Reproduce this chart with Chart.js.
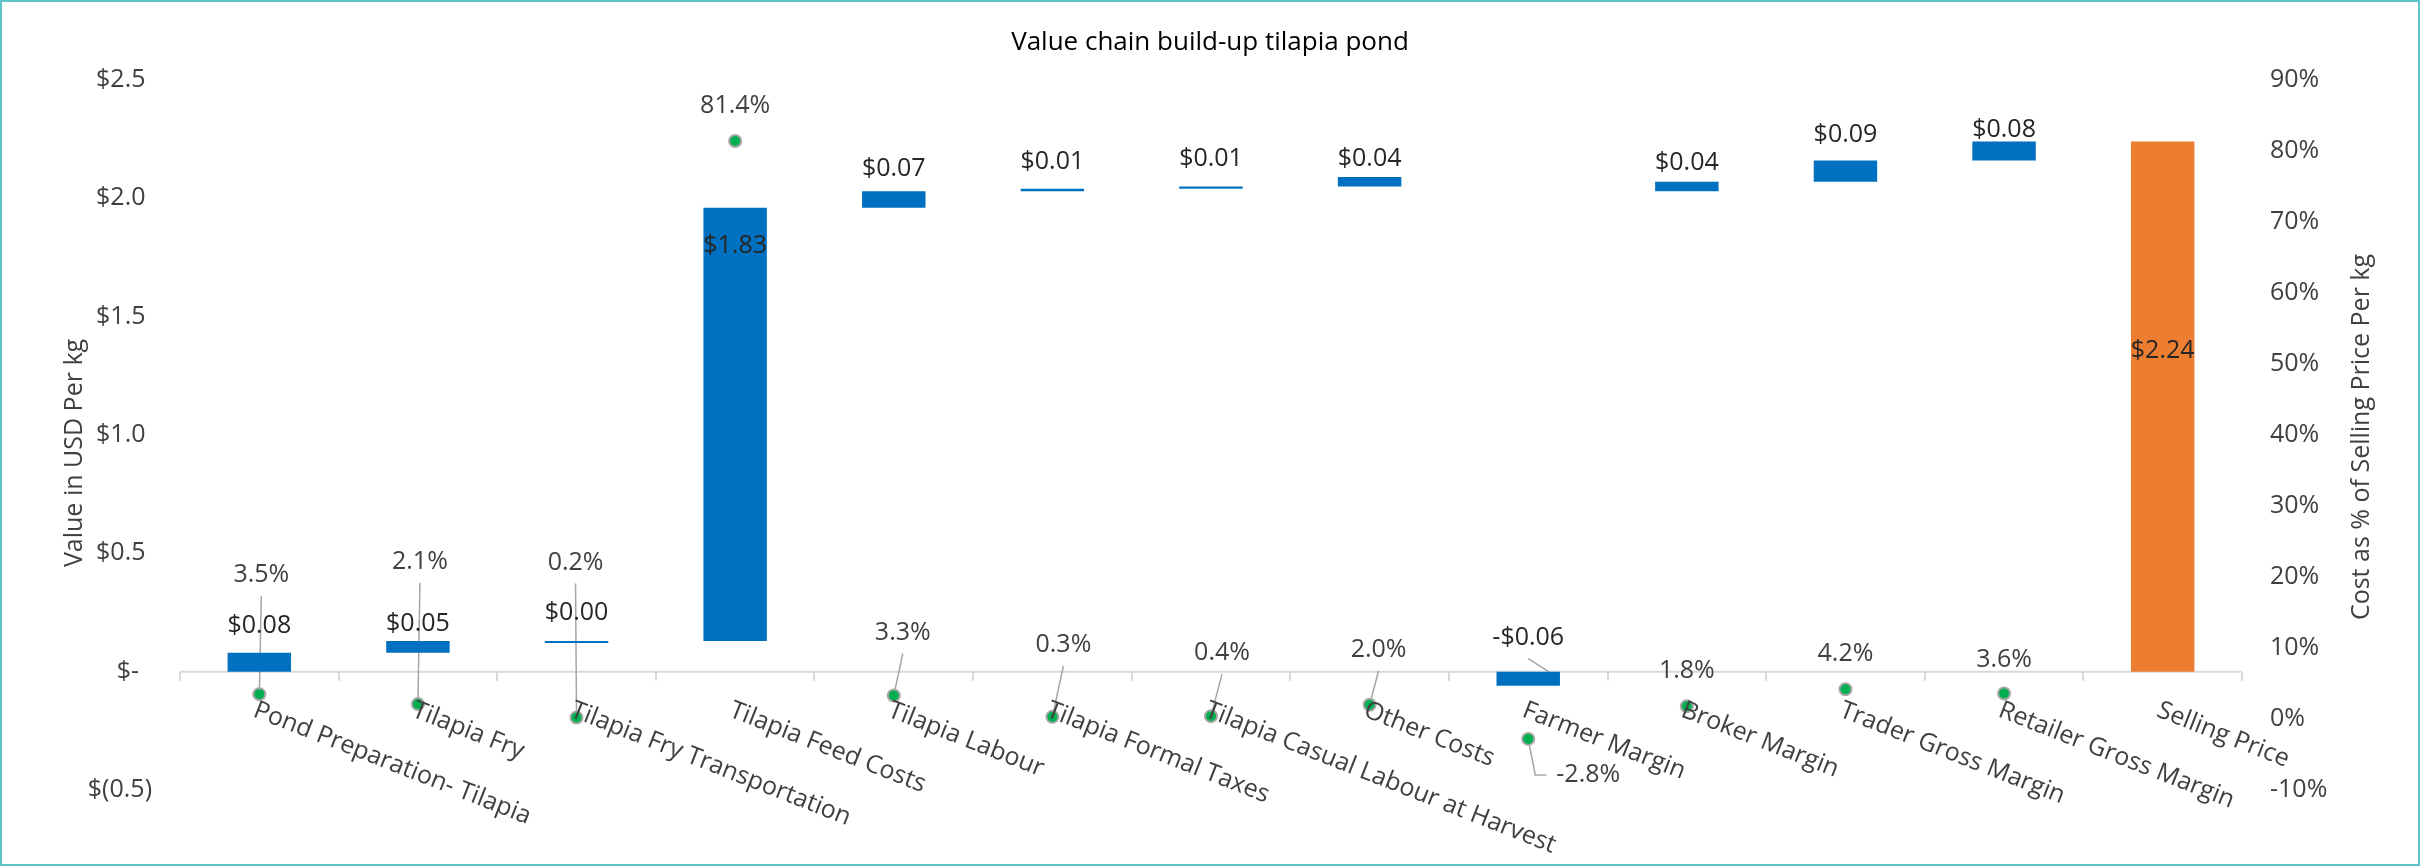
<!DOCTYPE html>
<html lang="en">
<head>
<meta charset="UTF-8">
<title>Value chain build-up tilapia pond</title>
<style>
  * { margin: 0; padding: 0; box-sizing: border-box; }
  body { background: #fff; width: 2420px; height: 866px; overflow: hidden; }
  .frame { width: 2420px; height: 866px; border: 2px solid #5ec4ca; background: #fff; }
  canvas { display: block; }
</style>
<script src="https://cdn.jsdelivr.net/npm/chart.js@4"></script>
</head>
<body>
<div class="frame"><canvas id="chain" width="2416" height="862"></canvas></div>
<script>
// data
const categories = ['Pond Preparation- Tilapia', 'Tilapia Fry', 'Tilapia Fry Transportation', 'Tilapia Feed Costs',
  'Tilapia Labour', 'Tilapia Formal Taxes', 'Tilapia Casual Labour at Harvest', 'Other Costs', 'Farmer Margin',
  'Broker Margin', 'Trader Gross Margin', 'Retailer Gross Margin', 'Selling Price'];
const costUsd = [0.08, 0.05, 0.00, 1.83, 0.07, 0.01, 0.01, 0.04, -0.06, 0.04, 0.09, 0.08, 2.24];
const costPct = [3.5, 2.1, 0.2, 81.4, 3.3, 0.3, 0.4, 2.0, -2.8, 1.8, 4.2, 3.6, null];
const usdTicks = [-0.5, 0, 0.5, 1.0, 1.5, 2.0, 2.5];
const pctTicks = [-10, 0, 10, 20, 30, 40, 50, 60, 70, 80, 90];

// label placement (px, relative to bar top / point), as Excel left them
const barLabelDy = [-27, -17, -28, 38, -22, -27, -28, -18, -34, -19, -26, -12, 209];
const pctLabelOff = [[2, -119], [2, -142], [-1, -155], [0, -35], [9, -63], [11, -72], [11, -63],
  [9, -55], [60, 36], [0, -35], [0, -35], [0, -34], [0, 0]];

const FONT = "'Open Sans', 'Segoe UI', sans-serif";
const LABEL_FONT = '25px ' + FONT;
const INK = '#404040';
const BLUE = '#0070c0', ORANGE = '#ed7d31';

// waterfall spans: running total, negatives hang from zero, last bar is the total
let run = 0;
const spans = costUsd.map((v, i) => {
  if (i === costUsd.length - 1) return [0, v];
  if (v < 0) { run += v; return [0, v]; }
  const s = [run, run + v];
  run += v;
  return s;
});

const fmtUsd = v => (v < 0 ? '-$' : '$') + Math.abs(v).toFixed(2);
const fmtPct = v => v.toFixed(1) + '%';
function usdTick(v) {
  if (Math.abs(v) < 1e-9) return '$-  ';
  if (v < 0) return '$(' + Math.abs(v).toFixed(1) + ')';
  return '$' + v.toFixed(1) + ' ';
}

const valueChain = {
  id: 'valueChain',
  beforeDatasetsDraw(chart) {
    const { ctx, chartArea: a, scales: { x, y } } = chart;
    const y0 = y.getPixelForValue(0);
    const step = x.getPixelForValue(1) - x.getPixelForValue(0);
    ctx.save();
    // category axis sits on zero
    ctx.strokeStyle = '#d9d9d9';
    ctx.lineWidth = 2;
    ctx.beginPath();
    ctx.moveTo(a.left, y0);
    ctx.lineTo(a.right, y0);
    for (let i = 0; i <= categories.length; i++) {
      const px = Math.round(x.getPixelForValue(i) - step / 2);
      ctx.moveTo(px, y0);
      ctx.lineTo(px, y0 + 9);
    }
    ctx.stroke();

    // leader lines
    ctx.strokeStyle = '#a6a6a6';
    ctx.lineWidth = 1.5;
    ctx.font = LABEL_FONT;
    const pts = chart.getDatasetMeta(0).data;
    pts.forEach((p, i) => {
      if (costPct[i] == null) return;
      const [dx, dy] = pctLabelOff[i];
      const lx = p.x + dx, ly = p.y + dy;
      ctx.beginPath();
      if (dy > 0) {
        const w = ctx.measureText(fmtPct(costPct[i])).width;
        ctx.moveTo(p.x, p.y);
        ctx.lineTo(p.x + 7, ly);
        ctx.lineTo(lx - w / 2 - 10, ly);
      } else if (-dy > 45) {
        ctx.moveTo(lx, ly + 21);
        ctx.lineTo(p.x, p.y);
      }
      ctx.stroke();
    });
    const bars = chart.getDatasetMeta(1).data;
    bars.forEach((b, i) => {
      if (costUsd[i] >= 0) return;
      const top = Math.min(b.y, b.base), bot = Math.max(b.y, b.base);
      ctx.beginPath();
      ctx.moveTo(b.x, top + barLabelDy[i] + 21);
      ctx.lineTo(b.x + b.width / 2, (top + bot) / 2);
      ctx.stroke();
    });
    ctx.restore();
  },
  afterDatasetsDraw(chart) {
    const { ctx, scales: { x, y } } = chart;
    const y0 = y.getPixelForValue(0);
    ctx.save();
    ctx.font = LABEL_FONT;
    ctx.textAlign = 'center';
    ctx.textBaseline = 'middle';

    // dollar labels
    ctx.fillStyle = '#262626';
    chart.getDatasetMeta(1).data.forEach((b, i) => {
      const top = Math.min(b.y, b.base);
      ctx.fillText(fmtUsd(costUsd[i]), b.x, top + barLabelDy[i]);
    });

    // percentage labels
    ctx.fillStyle = INK;
    chart.getDatasetMeta(0).data.forEach((p, i) => {
      if (costPct[i] == null) return;
      const [dx, dy] = pctLabelOff[i];
      ctx.fillText(fmtPct(costPct[i]), p.x + dx, p.y + dy);
    });

    // slanted category labels hanging off the zero axis
    ctx.textAlign = 'left';
    ctx.textBaseline = 'top';
    categories.forEach((c, i) => {
      ctx.save();
      ctx.translate(x.getPixelForValue(i), y0 + 26);
      ctx.rotate(21.5 * Math.PI / 180);
      ctx.fillText(c, 0, 0);
      ctx.restore();
    });
    ctx.restore();
  },
  afterDraw(chart) {
    const { ctx, width } = chart;
    ctx.save();
    ctx.textAlign = 'center';
    ctx.textBaseline = 'middle';
    ctx.fillStyle = '#000';
    ctx.font = '26px ' + FONT;
    ctx.fillText('Value chain build-up tilapia pond', width / 2, 41);

    ctx.fillStyle = INK;
    ctx.font = LABEL_FONT;
    [['Value in USD Per kg', 73, 451], ['Cost as % of Selling Price Per kg', 2360, 435]].forEach(([t, tx, ty]) => {
      ctx.save();
      ctx.translate(tx, ty);
      ctx.rotate(-Math.PI / 2);
      ctx.fillText(t, 0, 0);
      ctx.restore();
    });
    ctx.restore();
  }
};

new Chart(document.getElementById('chain'), {
  type: 'bar',
  data: {
    labels: categories,
    datasets: [
      {
        type: 'line',
        label: 'Cost as % of selling price',
        data: costPct,
        yAxisID: 'y2',
        showLine: false,
        pointRadius: 6,
        pointBorderWidth: 2,
        pointBackgroundColor: '#00b050',
        pointBorderColor: '#a6a6a6'
      },
      {
        label: 'Value in USD per kg',
        data: spans,
        yAxisID: 'y',
        backgroundColor: costUsd.map((v, i) => i === costUsd.length - 1 ? ORANGE : BLUE),
        barPercentage: 0.4,
        categoryPercentage: 1,
        minBarLength: 2
      }
    ]
  },
  options: {
    responsive: false,
    animation: false,
    layout: { padding: { top: 78, bottom: 74, left: 0, right: 0 } },
    plugins: { legend: { display: false }, tooltip: { enabled: false }, title: { display: false } },
    scales: {
      x: { display: false },
      y: {
        position: 'left',
        min: -0.5,
        max: 2.5,
        afterBuildTicks: s => { s.ticks = usdTicks.map(value => ({ value })); },
        afterFit: s => { s.width = 178; },
        grid: { display: false, drawTicks: false },
        border: { display: false },
        ticks: { padding: 28, color: INK, font: { family: FONT, size: 25 }, callback: usdTick }
      },
      y2: {
        position: 'right',
        min: -10,
        max: 90,
        afterBuildTicks: s => { s.ticks = pctTicks.map(value => ({ value })); },
        afterFit: s => { s.width = 176; },
        grid: { display: false, drawTicks: false },
        border: { display: false },
        ticks: { padding: 28, color: INK, font: { family: FONT, size: 25 }, callback: v => v + '%' }
      }
    }
  },
  plugins: [valueChain]
});
</script>
</body>
</html>
